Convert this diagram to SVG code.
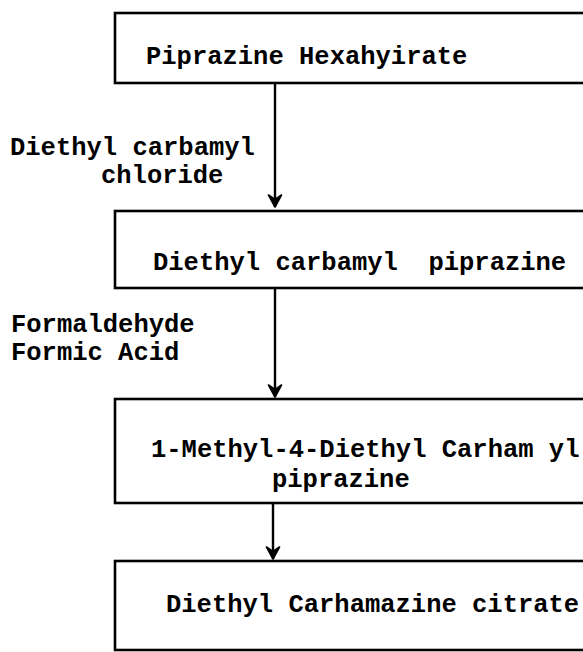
<svg xmlns="http://www.w3.org/2000/svg" width="583" height="652" viewBox="0 0 583 652">
  <style>
    .box { fill: none; stroke: #000; stroke-width: 2.6; }
    .edge { fill: none; stroke: #000; stroke-width: 2.4; }
    text { font-family: "Liberation Mono", "Courier New", monospace; font-size: 25.5px; font-weight: bold; fill: #000; }
  </style>
  <defs>
    <!-- downward chevron head; drawn along +x so orient="auto" points it down the line -->
    <marker id="arrow" markerWidth="14" markerHeight="16" refX="13" refY="8" orient="auto" markerUnits="userSpaceOnUse" viewBox="0 0 14 16">
      <path d="M1,1.5 L13,8 L1,14.5 L5.5,8 Z" fill="#000" stroke="#000" stroke-width="1.6" stroke-linejoin="round"/>
    </marker>
  </defs>
  <rect width="583" height="652" fill="#fff"/>

  <g id="connectors">
    <line class="edge" x1="275" y1="83" x2="275" y2="207" marker-end="url(#arrow)"/>
    <line class="edge" x1="275" y1="288" x2="275" y2="397" marker-end="url(#arrow)"/>
    <line class="edge" x1="273" y1="503" x2="273" y2="559" marker-end="url(#arrow)"/>
  </g>

  <g id="node-piprazine-hexahydrate">
    <rect class="box" x="115" y="13" width="500" height="70"/>
    <text x="146" y="64">Piprazine Hexahyirate</text>
  </g>

  <g id="reagent-1">
    <text x="10" y="155">Diethyl carbamyl</text>
    <text x="101" y="183">chloride</text>
  </g>

  <g id="node-diethyl-carbamyl-piprazine">
    <rect class="box" x="115" y="211" width="500" height="77"/>
    <text x="153" y="270" xml:space="preserve">Diethyl carbamyl  piprazine</text>
  </g>

  <g id="reagent-2">
    <text x="11" y="332">Formaldehyde</text>
    <text x="11" y="360">Formic Acid</text>
  </g>

  <g id="node-methyl-diethyl-carbamyl-piprazine">
    <rect class="box" x="115" y="399" width="500" height="104"/>
    <text x="151" y="457">1-Methyl-4-Diethyl Carham yl</text>
    <text x="272" y="487">piprazine</text>
  </g>

  <g id="node-diethylcarbamazine-citrate">
    <rect class="box" x="115" y="561" width="500" height="89"/>
    <text x="166" y="612">Diethyl Carhamazine citrate</text>
  </g>
</svg>
